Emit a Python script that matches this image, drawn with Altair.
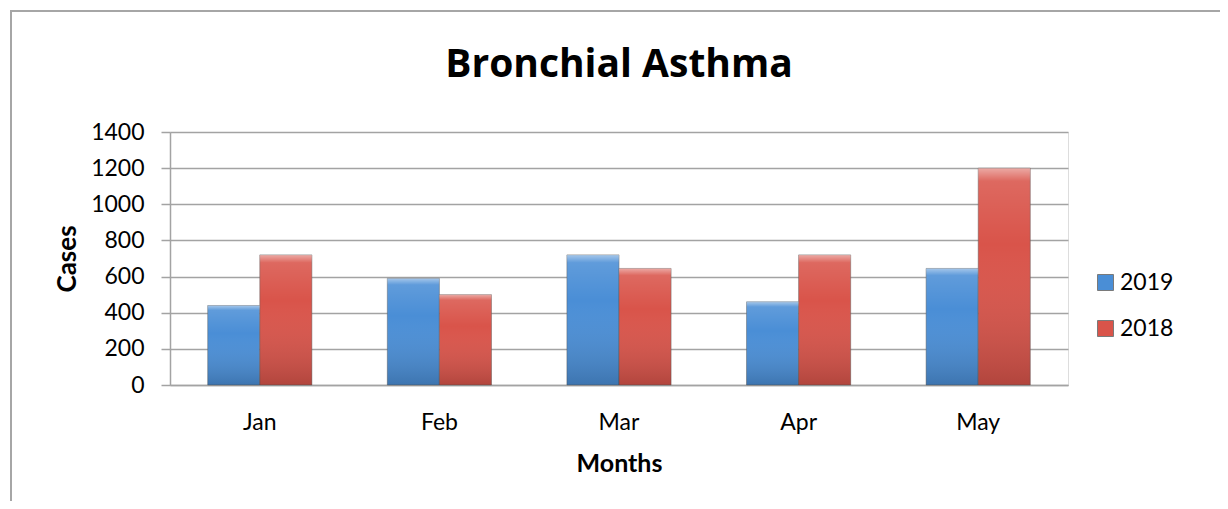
import altair as alt
import pandas as pd

months = ["Jan", "Feb", "Mar", "Apr", "May"]
cases_2019 = [440, 590, 720, 460, 645]
cases_2018 = [720, 500, 645, 720, 1200]
years = ["2019", "2018"]

rows = []
for i, m in enumerate(months):
    rows.append({"Month": m, "Year": "2019", "Cases": cases_2019[i]})
    rows.append({"Month": m, "Year": "2018", "Cases": cases_2018[i]})
df = pd.DataFrame(rows)

FONT = "Lato"
GRID = "#a3a3a3"

shade = {
    "gradient": "linear", "x1": 0, "y1": 0, "x2": 0, "y2": 1,
    "stops": [
        {"offset": 0.0, "color": "rgba(255,255,255,0.5)"},
        {"offset": 0.06, "color": "rgba(255,255,255,0.12)"},
        {"offset": 0.35, "color": "rgba(255,255,255,0.0)"},
        {"offset": 1.0, "color": "rgba(0,0,0,0.18)"},
    ],
}

x_enc = alt.X("Month:N", sort=months,
              scale=alt.Scale(paddingInner=0.42, paddingOuter=0.21),
              axis=alt.Axis(title="Months", labelAngle=0, ticks=False,
                            labelFont=FONT, labelFontSize=23, labelColor="#000",
                            labelBaseline="middle", labelPadding=37,
                            titleFont=FONT, titleFontSize=25, titleFontWeight="bold",
                            titleColor="#000", titleBaseline="middle", titleY=78,
                            domainColor=GRID, domainWidth=1.5))
xo_enc = alt.XOffset("Year:N", sort=years)
y_enc = alt.Y("Cases:Q", scale=alt.Scale(domain=[0, 1400], nice=False),
              axis=alt.Axis(title="Cases", values=[0, 200, 400, 600, 800, 1000, 1200, 1400],
                            format="d",
                            tickSize=9, tickColor=GRID, tickWidth=1.5,
                            gridColor=GRID, gridWidth=1.5,
                            domainColor=GRID, domainWidth=1.5,
                            labelFont=FONT, labelFontSize=23, labelColor="#000", labelPadding=17,
                            titleFont=FONT, titleFontSize=26, titleFontWeight="bold",
                            titleColor="#000", titleX=-103, titleY=126.5,
                            titleAlign="center", titleBaseline="middle", titleAngle=-90))

bars = alt.Chart(df).mark_bar(stroke="#5a5a5a", strokeWidth=0.8, strokeOpacity=0.6).encode(
    x=x_enc, xOffset=xo_enc, y=y_enc,
    color=alt.Color("Year:N", sort=years,
                    scale=alt.Scale(domain=years, range=["#4a8ed6", "#d9544a"]),
                    legend=alt.Legend(title=None, orient="none", legendX=924, legendY=139,
                                      symbolType="square", symbolSize=256,
                                      symbolStrokeColor="#7a7a7a", symbolStrokeWidth=1,
                                      labelFont=FONT, labelFontSize=23, labelColor="#000",
                                      labelOffset=3, rowPadding=22, padding=0)),
)

bevel = alt.Chart(df).mark_bar(fill=shade, strokeWidth=0).encode(
    x=x_enc, xOffset=xo_enc, y=y_enc,
)

frame = alt.Chart(alt.Data(values=[{}])).mark_rect(
    fill="transparent", stroke="#a6a6a6", strokeWidth=2
).encode(
    x=alt.value(-159), x2=alt.value(1300),
    y=alt.value(-121), y2=alt.value(700),
)

chart = alt.layer(frame, bars, bevel).properties(
    width=898, height=253,
    title=alt.Title("Bronchial Asthma", font="Open Sans", fontSize=39, fontWeight="bold",
                    color="#000", anchor="middle", offset=0, baseline="alphabetic", dy=106),
    padding={"left": 162, "top": 124, "right": 152, "bottom": 116},
    autosize=alt.AutoSizeParams(type="none"),
).configure_view(stroke=None).configure(background="white")

chart.save("out.html", embed_options={"renderer": "svg", "actions": False})
